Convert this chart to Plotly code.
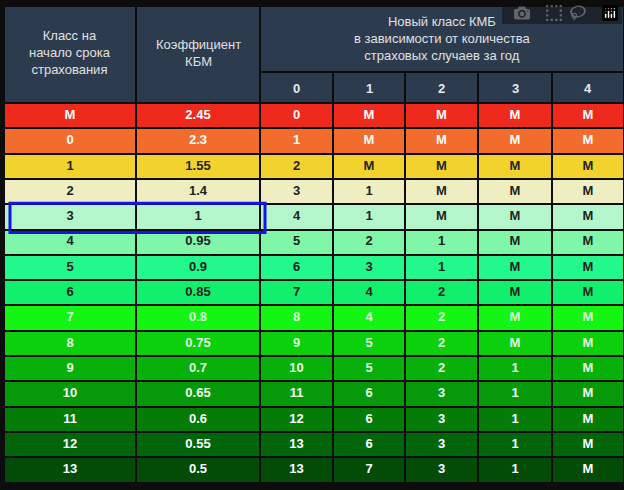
import plotly.graph_objects as go

# table data
start_class = ["M", "0", "1", "2", "3", "4", "5", "6", "7", "8", "9", "10", "11", "12", "13"]
kbm = ["2.45", "2.3", "1.55", "1.4", "1", "0.95", "0.9", "0.85", "0.8", "0.75", "0.7", "0.65", "0.6", "0.55", "0.5"]
claims_0 = ["0", "1", "2", "3", "4", "5", "6", "7", "8", "9", "10", "11", "12", "13", "13"]
claims_1 = ["M", "M", "M", "1", "1", "2", "3", "4", "4", "5", "5", "6", "6", "6", "7"]
claims_2 = ["M", "M", "M", "M", "M", "1", "1", "2", "2", "2", "2", "3", "3", "3", "3"]
claims_3 = ["M", "M", "M", "M", "M", "M", "M", "M", "M", "M", "1", "1", "1", "1", "1"]
claims_4 = ["M"] * 15
claim_counts = ["0", "1", "2", "3", "4"]

row_colors = ["#ee2a1c", "#f26c2e", "#f2d32e", "#efeec0", "#b4f6cc", "#7ff6a8", "#22f88c",
              "#12ef6c", "#14f514", "#0bd00b", "#07b00b", "#069a0a", "#057c08", "#03650a", "#024c08"]
text_colors = ["#ffffff", "#ffffff", "#222222", "#222222", "#222222", "#222222", "#222222",
               "#222222", "#d8f8d8", "#e0f8e0", "#e8f8e8", "#f0fff0", "#ffffff", "#ffffff", "#ffffff"]

columns = [start_class, kbm, claims_0, claims_1, claims_2, claims_3, claims_4]
x_edges = [4, 136, 260, 333, 405, 478, 552, 624]
y_top, row_h = 103, 25.3
n = len(start_class)
y_edges = [y_top + i * row_h for i in range(n + 1)]
x_mid = [(x_edges[i] + x_edges[i + 1]) / 2 for i in range(len(columns))]
y_mid = [(y_edges[i] + y_edges[i + 1]) / 2 for i in range(n)]

fig = go.Figure()

# coloured body cells
z = [[i] * len(columns) for i in range(n)]
scale = []
for i, c in enumerate(row_colors):
    scale.append([i / n, c])
    scale.append([(i + 1) / n, c])
fig.add_trace(go.Heatmap(z=z, x=x_edges, y=y_edges, colorscale=scale, zmin=0, zmax=n,
                         showscale=False, xgap=2, ygap=2, hoverinfo="skip"))

# cell texts
xs, ys, ts, cs = [], [], [], []
for j, col in enumerate(columns):
    for i, v in enumerate(col):
        xs.append(x_mid[j]); ys.append(y_mid[i]); ts.append(v); cs.append(text_colors[i])
fig.add_trace(go.Scatter(x=xs, y=ys, text=ts, mode="text", hoverinfo="skip",
                         textfont=dict(color=cs, size=13, family="Liberation Sans", weight="bold")))

# header
hdr = "#2c3b4e"
shapes = []
def cell(x0, x1, y0, y1):
    shapes.append(dict(type="rect", x0=x0 + 1, x1=x1 - 1, y0=y0 + 1, y1=y1 - 1,
                       fillcolor=hdr, line=dict(width=0), layer="below"))
cell(x_edges[0], x_edges[1], 6, y_top)
cell(x_edges[1], x_edges[2], 6, y_top)
cell(x_edges[2], x_edges[-1], 6, 72)
for j in range(2, 7):
    cell(x_edges[j], x_edges[j + 1], 72, y_top)
# highlight frame around class 3
shapes.append(dict(type="rect", x0=10, x1=265, y0=y_edges[4] - 1, y1=y_edges[5] + 3,
                   line=dict(color="#1414e6", width=3)))

annotations = [
    dict(x=x_mid[0], y=52, text="Класс на<br>начало срока<br>страхования"),
    dict(x=x_mid[1], y=53, text="Коэффициент<br>КБМ"),
    dict(x=(x_edges[2] + x_edges[-1]) / 2, y=38, text="Новый класс КМБ<br>в зависимости от количества<br>страховых случаев за год"),
]
for j, k in enumerate(claim_counts):
    annotations.append(dict(x=x_mid[j + 2], y=88, text=k, font=dict(weight="bold", size=13, color="#e8e8e8")))
for a in annotations:
    a.update(showarrow=False, xref="x", yref="y")
    a.setdefault("font", dict(size=13, color="#e0e0e0"))
    a["font"].setdefault("family", "Liberation Sans")

fig.update_layout(
    width=624, height=490, margin=dict(l=0, r=0, t=0, b=0),
    paper_bgcolor="#0d0d0d", plot_bgcolor="#0d0d0d",
    xaxis=dict(range=[0, 624], visible=False, fixedrange=True),
    yaxis=dict(range=[490, 0], visible=False, fixedrange=True),
    shapes=shapes, annotations=annotations, showlegend=False,
)
# drop the browser's default page margin so the figure fills the window
fig.write_html("out.html", post_script="document.body.style.margin='0';document.body.style.background='#0d0d0d';")
